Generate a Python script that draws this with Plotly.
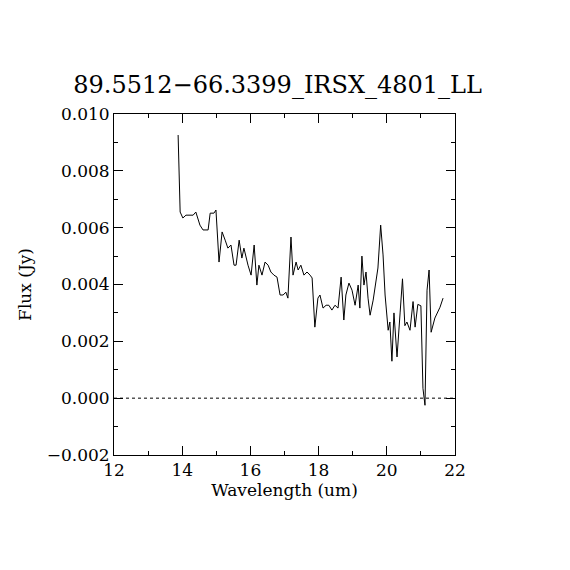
import plotly.graph_objects as go

title = "89.5512\u221266.3399_IRSX_4801_LL"

wavelength = [13.88, 13.94, 14.02, 14.11, 14.32, 14.40, 14.52, 14.61, 14.76, 14.82,
              14.93, 14.99, 15.08, 15.17, 15.26, 15.34, 15.43, 15.52, 15.58, 15.67,
              15.75, 15.81, 15.93, 16.02, 16.11, 16.19, 16.25, 16.34, 16.43, 16.52,
              16.60, 16.69, 16.78, 16.87, 16.96, 17.04, 17.10, 17.19, 17.25, 17.34,
              17.40, 17.48, 17.57, 17.66, 17.75, 17.81, 17.89, 17.98, 18.04, 18.13,
              18.22, 18.30, 18.39, 18.48, 18.57, 18.66, 18.74, 18.80, 18.89, 18.98,
              19.07, 19.16, 19.21, 19.27, 19.33, 19.39, 19.45, 19.51, 19.60, 19.65,
              19.71, 19.74, 19.82, 19.89, 19.95, 20.04, 20.09, 20.15, 20.21, 20.30,
              20.39, 20.46, 20.53, 20.59, 20.68, 20.77, 20.83, 20.91, 21.00, 21.06,
              21.12, 21.18, 21.24, 21.30, 21.41, 21.56, 21.65]

flux = [0.00926, 0.00655, 0.00634, 0.00644, 0.00644, 0.00655, 0.00609, 0.00592, 0.00592, 0.00651,
        0.00651, 0.00662, 0.00479, 0.00585, 0.00556, 0.00528, 0.00539, 0.00468, 0.00468, 0.00556,
        0.00493, 0.00528, 0.00468, 0.00433, 0.00539, 0.00398, 0.00468, 0.00433, 0.00479, 0.00468,
        0.00444, 0.00433, 0.00426, 0.00363, 0.00363, 0.00373, 0.00352, 0.00567, 0.00433, 0.00479,
        0.00451, 0.00468, 0.00433, 0.00444, 0.00433, 0.00423, 0.00250, 0.00352, 0.00363, 0.00317,
        0.00327, 0.00327, 0.00310, 0.00327, 0.00317, 0.00426, 0.00275, 0.00363, 0.00405, 0.00380,
        0.00327, 0.00398, 0.00317, 0.00500, 0.00398, 0.00444, 0.00352, 0.00292, 0.00345, 0.00380,
        0.00423, 0.00458, 0.00609, 0.00504, 0.00363, 0.00239, 0.00268, 0.00130, 0.00300, 0.00145,
        0.00300, 0.00420, 0.00255, 0.00268, 0.00239, 0.00340, 0.00250, 0.00330, 0.00325, 0.00035,
        -0.00025, 0.00380, 0.00451, 0.00232, 0.00282, 0.00320, 0.00352]

FONT = "DejaVu Serif"

fig = go.Figure()
fig.add_trace(go.Scatter(x=wavelength, y=flux, mode="lines",
                         line=dict(color="black", width=1), showlegend=False,
                         hoverinfo="skip"))

fig.add_shape(type="line", xref="paper", yref="y", x0=0, x1=1, y0=0, y1=0,
              line=dict(color="black", width=1, dash="dot"))

axis_common = dict(showgrid=False, zeroline=False, showline=True, linecolor="black",
                   linewidth=1, mirror="ticks", ticks="inside", ticklen=9,
                   tickcolor="black", tickwidth=1,
                   tickfont=dict(family=FONT, size=17, color="black"))

fig.update_xaxes(range=[12, 22], tickmode="array", tickvals=[12, 14, 16, 18, 20, 22],
                 minor=dict(ticks="inside", ticklen=4, tickcolor="black", dtick=1, tick0=12),
                 title=dict(text="Wavelength (um)", font=dict(family=FONT, size=17, color="black"),
                            standoff=4),
                 **axis_common)
fig.update_yaxes(range=[-0.002, 0.010], tickmode="array",
                 tickvals=[-0.002, 0.0, 0.002, 0.004, 0.006, 0.008, 0.010],
                 tickformat=".3f",
                 minor=dict(ticks="inside", ticklen=4, tickcolor="black", dtick=0.001, tick0=0),
                 title=dict(text="Flux (Jy)", font=dict(family=FONT, size=17, color="black"),
                            standoff=10),
                 **axis_common)

fig.update_layout(
    width=570, height=570,
    margin=dict(l=106, r=123, t=106, b=123, autoexpand=False),
    paper_bgcolor="white", plot_bgcolor="white",
    title=dict(text=title, x=0.473, xanchor="center", y=0.865, yanchor="middle",
               font=dict(family=FONT, size=24, color="black")),
)

fig.write_html("out.html")
